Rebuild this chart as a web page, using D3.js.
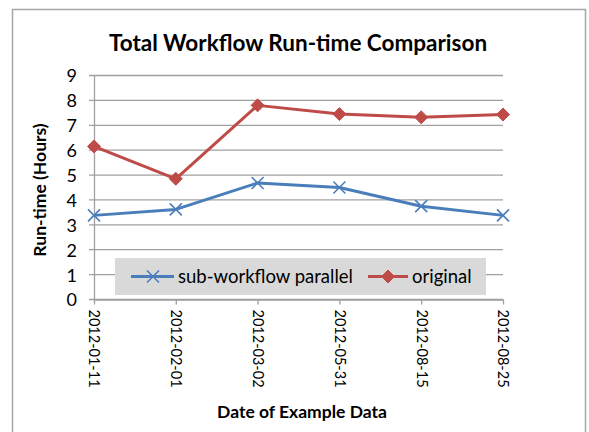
<!DOCTYPE html>
<html><head><meta charset="utf-8">
<script src="https://cdn.jsdelivr.net/npm/d3@7"></script>
<style>body{margin:0;background:#fff;}svg{display:block;font-family:Lato,"Open Sans",sans-serif;}</style>
</head><body>
<svg id="c" width="589" height="432"></svg>
<script>
const categories = ["2012-01-11","2012-02-01","2012-03-02","2012-05-31","2012-08-15","2012-08-25"];
const subWorkflowParallel = [3.38, 3.62, 4.68, 4.5, 3.75, 3.38];
const original = [6.15, 4.85, 7.8, 7.45, 7.32, 7.43];
const yTicks = [0,1,2,3,4,5,6,7,8,9];

const svg = d3.select("#c");
// frame
svg.append("path").attr("d","M12.5,440 V9.5 H585.5 V440").attr("fill","none").attr("stroke","#a6a6a6").attr("stroke-width",1.5);

const x = d3.scalePoint().domain(categories).range([94, 503]);
const y = d3.scaleLinear().domain([0, 9]).range([299.5, 75.5]);

// gridlines
svg.append("g").selectAll("line").data(yTicks).join("line")
  .attr("x1", 89).attr("x2", 503).attr("y1", d=>y(d)).attr("y2", d=>y(d))
  .attr("stroke","#a0a0a0").attr("stroke-width",1.3);

// y axis
const yAxis = svg.append("g").attr("transform","translate(94,0)")
  .call(d3.axisLeft(y).tickValues(yTicks).tickSize(0).tickPadding(17));
yAxis.select(".domain").attr("stroke","#a0a0a0").attr("stroke-width",1.3);
yAxis.selectAll("text").attr("font-size",18).attr("fill","#000").attr("font-family","Lato,sans-serif").attr("dy","0.36em");

// x axis
const xAxis = svg.append("g").attr("transform","translate(0,299.5)")
  .call(d3.axisBottom(x).tickSize(5).tickSizeOuter(0));
xAxis.select(".domain").attr("stroke","#a0a0a0").attr("stroke-width",1.3);
xAxis.selectAll(".tick line").attr("stroke","#a0a0a0").attr("stroke-width",1.3);
xAxis.selectAll("text").attr("font-size",14.5).attr("fill","#000").attr("font-family","Lato,sans-serif")
  .attr("transform","rotate(90)").attr("text-anchor","start").attr("x",10).attr("y",0).attr("dy","0.35em");

// legend box
svg.append("rect").attr("x",115).attr("y",258).attr("width",371).attr("height",37).attr("fill","#d9d9d9");

const line = d3.line().x((d,i)=>x(categories[i])).y(d=>y(d));
const blue = "#4a7ebb", red = "#be4b48";

svg.append("path").datum(subWorkflowParallel).attr("d", line).attr("fill","none").attr("stroke",blue).attr("stroke-width",3).attr("stroke-linejoin","round");
svg.append("path").datum(original).attr("d", line).attr("fill","none").attr("stroke",red).attr("stroke-width",3).attr("stroke-linejoin","round");

function xMark(g, cx, cy){
  g.append("path").attr("d",`M${cx-6},${cy-6}L${cx+6},${cy+6}M${cx-6},${cy+6}L${cx+6},${cy-6}`)
   .attr("stroke",blue).attr("stroke-width",1.6).attr("fill","none");
}
function diamond(g, cx, cy){
  g.append("path").attr("d",`M${cx},${cy-6.5}L${cx+6.5},${cy}L${cx},${cy+6.5}L${cx-6.5},${cy}Z`)
   .attr("fill",red).attr("stroke",red).attr("stroke-width",1);
}
const mk = svg.append("g");
subWorkflowParallel.forEach((v,i)=>xMark(mk, x(categories[i]), y(v)));
original.forEach((v,i)=>diamond(mk, x(categories[i]), y(v)));

// legend entries
const lg = svg.append("g");
lg.append("line").attr("x1",131).attr("x2",174).attr("y1",276.5).attr("y2",276.5).attr("stroke",blue).attr("stroke-width",3);
xMark(lg,153,276.5);
lg.append("text").attr("x",178).attr("y",276.5).attr("dy","0.35em").attr("font-size",18.5).text("sub-workflow parallel");
lg.append("line").attr("x1",368).attr("x2",408).attr("y1",276.5).attr("y2",276.5).attr("stroke",red).attr("stroke-width",3);
diamond(lg,388,276.5);
lg.append("text").attr("x",412).attr("y",276.5).attr("dy","0.35em").attr("font-size",18.5).text("original");

// titles
svg.append("text").attr("x",298).attr("y",51).attr("text-anchor","middle").attr("font-size",22.5).attr("font-weight","bold").text("Total Workflow Run-time Comparison");
svg.append("text").attr("transform","translate(46,190) rotate(-90)").attr("text-anchor","middle").attr("font-size",17.5).attr("font-weight","bold").text("Run-time (Hours)");
svg.append("text").attr("x",302).attr("y",418).attr("text-anchor","middle").attr("font-size",17.5).attr("font-weight","bold").text("Date of Example Data");
</script>
</body></html>
